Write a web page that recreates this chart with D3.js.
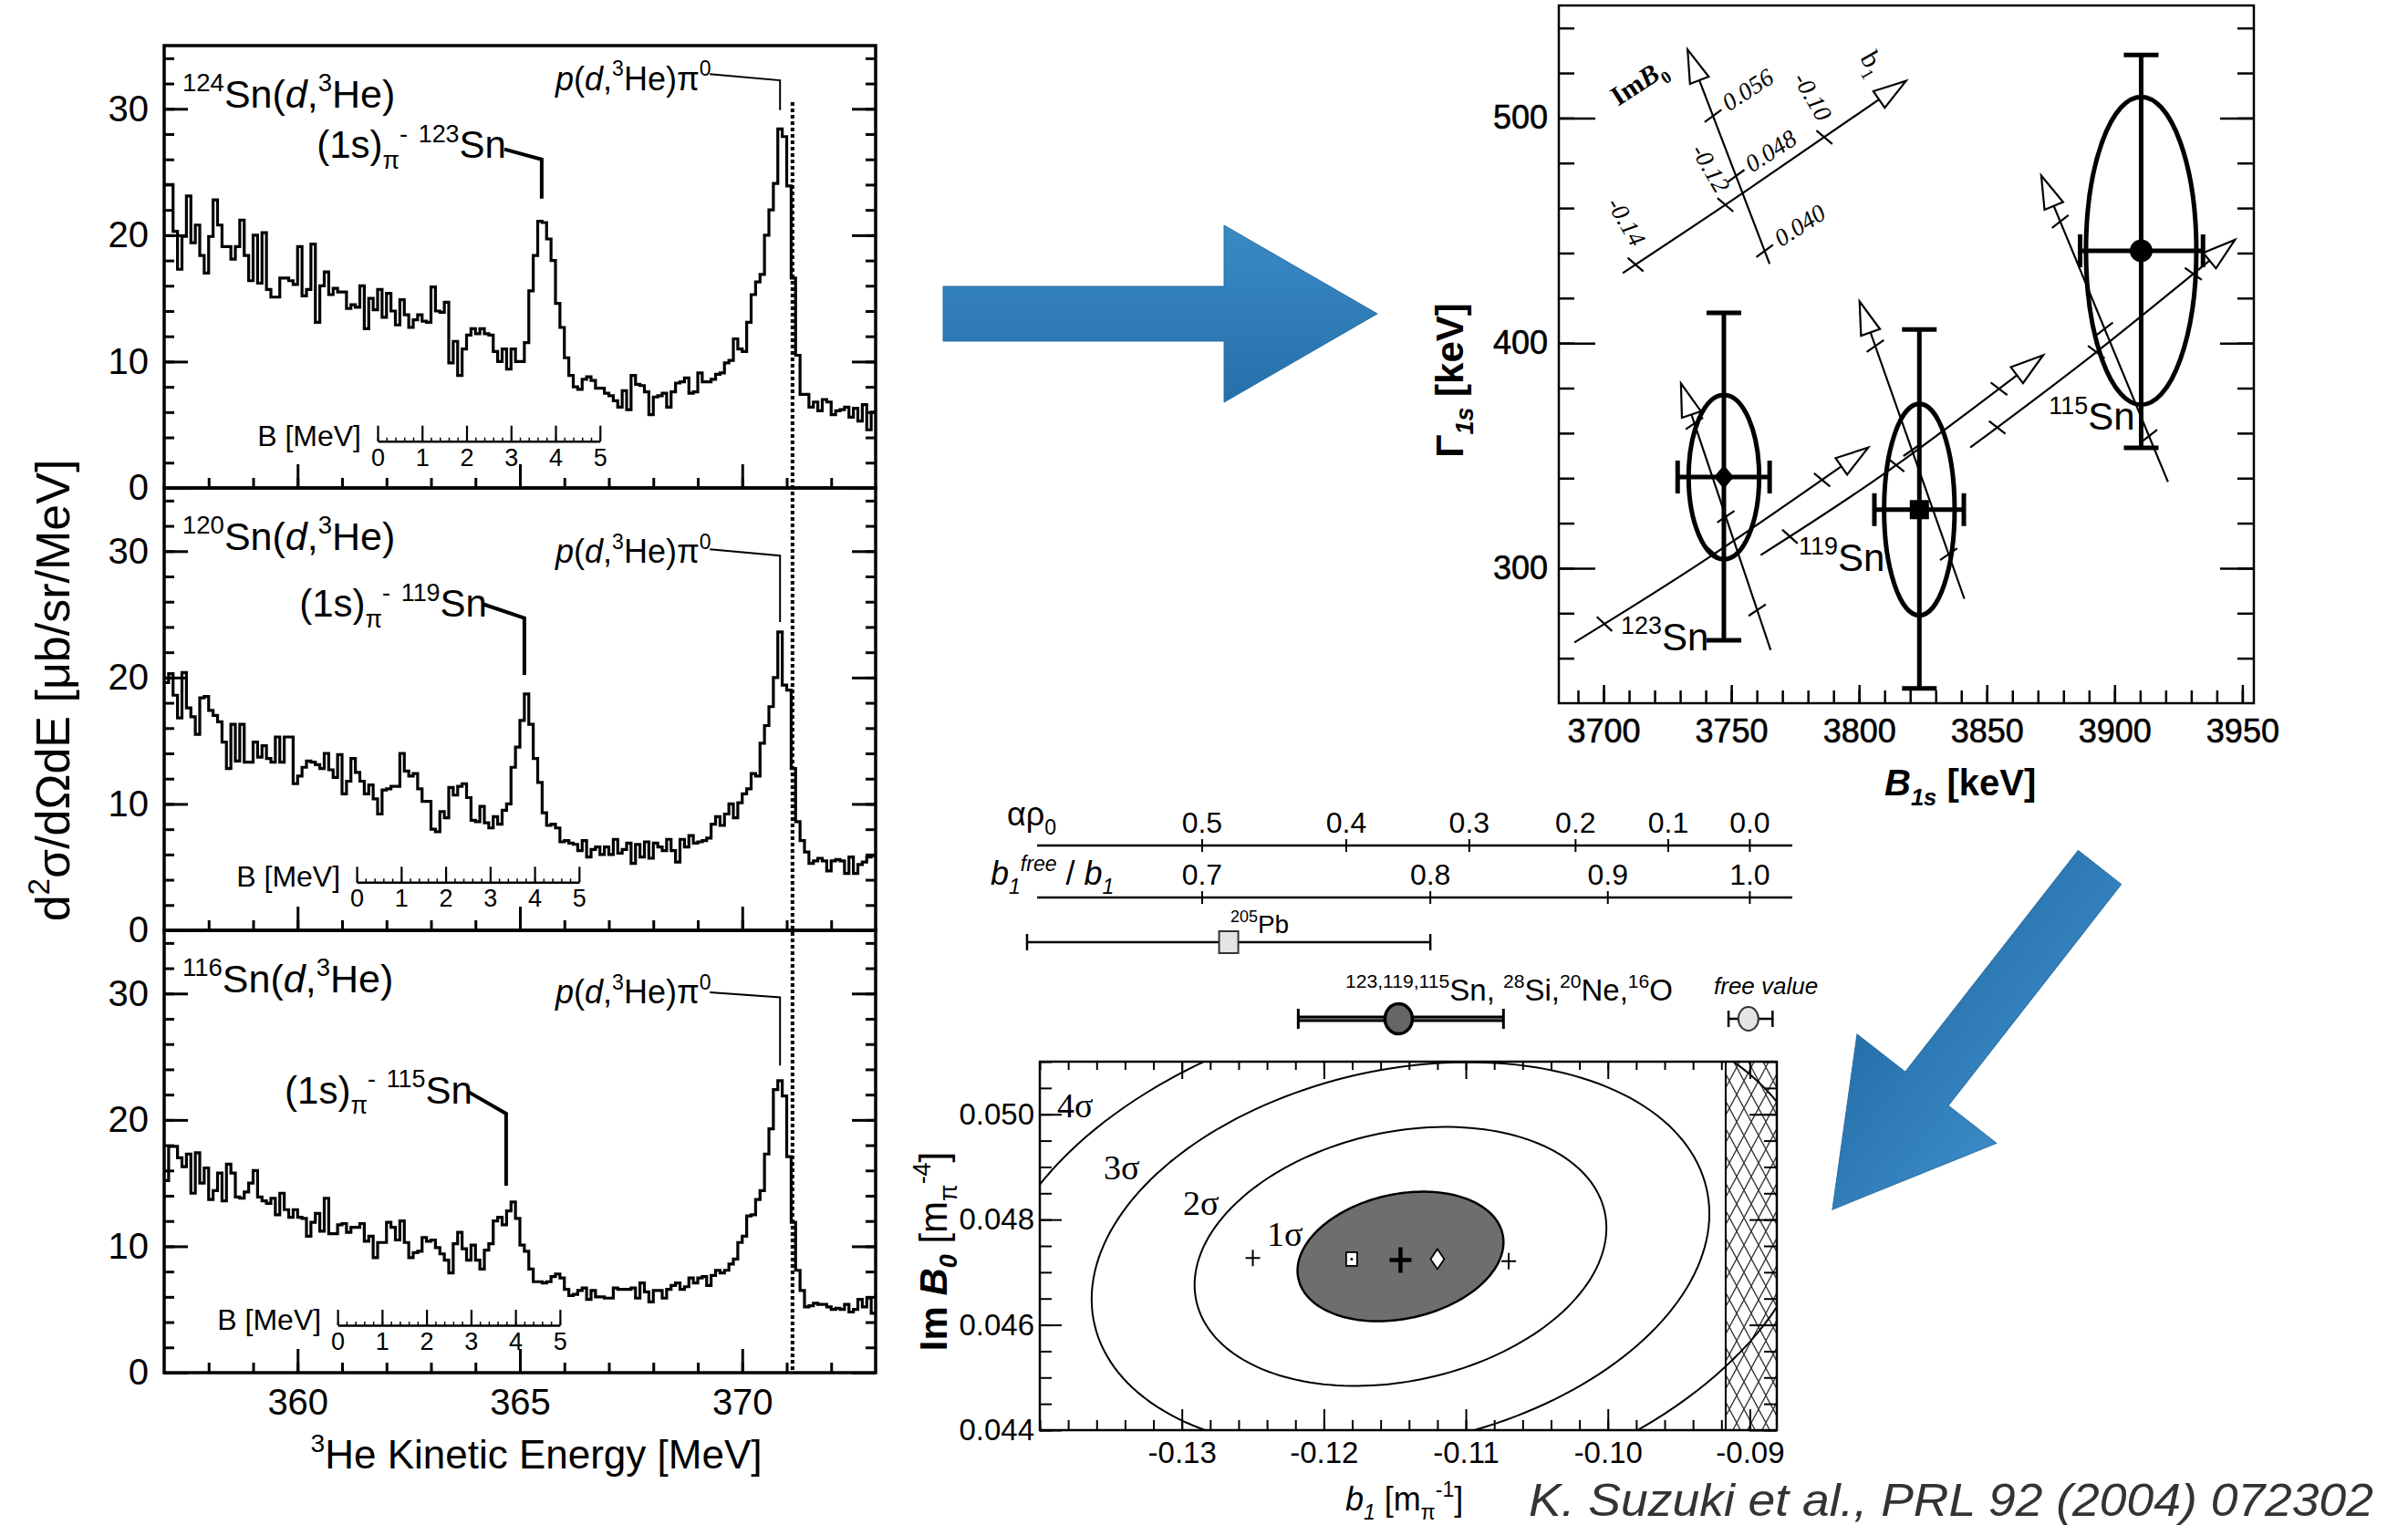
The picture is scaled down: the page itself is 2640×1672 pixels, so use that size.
<!DOCTYPE html>
<html>
<head>
<meta charset="utf-8">
<script src="https://cdn.jsdelivr.net/npm/d3@7"></script>
<style>
  body { margin: 0; background: #fff; }
  text { font-family: "Liberation Sans", Arial, Helvetica, sans-serif; fill: #000; }
  .serif { font-family: "Liberation Serif", "Times New Roman", serif; }
</style>
</head>
<body>
<svg id="fig" width="2640" height="1672"></svg>
<script>
// ---- spectra, counts per 0.1 MeV bin from 357.0 to 373.0 MeV ----
var eMin = 357, eMax = 373, binW = 0.1;
var sn124 = [
  24.0, 24.0, 20.3, 17.3, 19.9, 23.1, 19.4, 20.8, 18.4, 17.0,
  19.9, 22.8, 20.8, 19.1, 19.1, 18.1, 19.1, 21.2, 18.4, 16.4,
  20.0, 16.2, 20.2, 15.7, 15.1, 15.1, 16.6, 16.6, 16.4, 16.1,
  19.1, 15.2, 15.7, 19.3, 13.1, 16.0, 17.1, 15.3, 15.8, 15.5,
  15.5, 14.2, 14.5, 14.3, 16.0, 12.6, 15.0, 14.1, 15.7, 13.5,
  15.4, 14.0, 12.9, 14.9, 13.7, 12.7, 13.3, 13.7, 13.2, 13.1,
  15.9, 14.0, 13.9, 14.7, 9.9, 11.6, 8.9, 11.0, 12.1, 12.6,
  12.2, 12.6, 12.2, 12.1, 10.8, 10.0, 11.0, 9.4, 11.0, 10.0,
  10.0, 11.5, 15.6, 18.4, 21.1, 21.0, 19.7, 18.0, 14.6, 12.7,
  10.3, 8.9, 8.0, 7.8, 8.6, 8.8, 8.5, 7.9, 7.9, 7.5,
  7.3, 6.9, 6.4, 7.7, 6.2, 8.9, 8.2, 8.1, 7.6, 5.8,
  7.2, 7.3, 7.5, 6.4, 7.6, 8.3, 8.4, 8.7, 7.5, 7.6,
  9.1, 8.4, 8.4, 8.6, 9.0, 9.1, 9.9, 10.1, 11.8, 11.0,
  10.8, 13.1, 15.3, 16.3, 16.9, 20.0, 22.0, 24.1, 28.4, 27.8,
  23.9, 16.6, 10.5, 7.4, 7.4, 6.4, 6.8, 6.1, 7.0, 6.8,
  5.8, 6.1, 6.2, 6.4, 5.6, 6.3, 5.3, 6.6, 4.6, 6.0
];
var sn120 = [
  19.6, 20.3, 18.6, 16.8, 20.4, 17.6, 16.9, 15.5, 18.4, 18.5,
  17.4, 17.0, 16.5, 14.9, 12.8, 16.3, 13.4, 16.3, 13.3, 13.3,
  14.9, 13.7, 14.6, 13.6, 13.3, 15.3, 13.3, 15.3, 15.3, 11.6,
  12.2, 12.9, 13.4, 13.3, 13.1, 12.8, 14.0, 12.7, 12.1, 13.9,
  10.8, 11.8, 13.6, 12.5, 11.8, 10.8, 11.5, 10.4, 9.2, 11.1,
  11.2, 11.4, 11.4, 14.0, 12.6, 12.2, 12.4, 11.2, 10.2, 10.2,
  8.0, 7.8, 9.4, 8.9, 11.3, 10.7, 11.4, 11.6, 10.5, 8.7,
  8.6, 9.8, 8.5, 8.1, 9.0, 8.4, 9.5, 10.0, 12.9, 14.5,
  16.6, 18.7, 16.3, 13.6, 11.7, 9.3, 8.3, 8.4, 8.1, 7.0,
  7.1, 6.9, 6.8, 6.3, 7.1, 5.8, 6.4, 6.6, 6.0, 6.6,
  6.0, 7.2, 6.1, 6.4, 6.9, 5.3, 6.8, 5.8, 7.0, 5.7,
  6.9, 6.6, 6.3, 7.2, 6.3, 5.4, 7.2, 6.6, 7.5, 6.9,
  7.0, 7.1, 7.3, 8.4, 9.0, 8.3, 9.2, 10.0, 8.9, 10.1,
  10.8, 11.2, 12.4, 12.2, 14.8, 16.2, 17.7, 20.0, 23.6, 19.4,
  19.0, 12.8, 8.6, 7.1, 6.2, 5.3, 5.5, 5.7, 5.5, 4.7,
  5.5, 5.6, 5.5, 4.5, 5.8, 4.5, 5.2, 5.4, 5.8, 5.9
];
var sn116 = [
  15.2, 17.9, 17.9, 17.0, 16.3, 17.3, 14.2, 17.4, 15.0, 16.2,
  13.7, 14.4, 15.8, 13.6, 16.5, 15.8, 13.9, 13.8, 14.3, 15.0,
  16.0, 13.9, 13.6, 13.4, 13.8, 12.5, 14.2, 12.9, 12.3, 12.9,
  12.3, 12.2, 10.8, 11.9, 12.6, 11.2, 13.8, 11.0, 11.0, 11.7,
  11.8, 11.1, 11.5, 11.5, 11.8, 10.4, 10.8, 9.1, 10.3, 10.3,
  11.9, 11.5, 10.5, 12.0, 10.3, 9.1, 9.5, 9.6, 10.7, 10.4,
  10.5, 9.9, 9.4, 8.9, 7.9, 10.2, 11.1, 9.8, 8.9, 10.1,
  8.9, 8.2, 9.7, 10.2, 12.0, 12.3, 11.7, 12.8, 13.5, 12.2,
  10.1, 9.6, 8.2, 7.2, 7.2, 7.1, 7.2, 7.6, 7.8, 7.5,
  6.6, 6.1, 6.2, 6.5, 6.7, 5.8, 6.5, 6.0, 6.0, 5.9,
  5.9, 6.7, 6.6, 6.6, 6.6, 6.7, 5.9, 7.1, 6.4, 5.6,
  6.5, 6.5, 5.9, 6.6, 6.9, 7.1, 6.6, 6.8, 7.5, 7.1,
  7.5, 7.6, 6.9, 7.7, 8.1, 7.9, 8.1, 8.6, 9.0, 10.3,
  10.8, 12.4, 12.5, 13.7, 14.4, 17.3, 19.3, 22.4, 23.1, 21.9,
  17.1, 11.9, 8.1, 6.5, 5.2, 5.3, 5.5, 5.4, 5.4, 5.2,
  5.0, 5.1, 5.0, 5.4, 4.8, 5.0, 5.8, 5.2, 5.9, 4.7
];
var spectra = [sn124, sn120, sn116];
var targetA = ["124", "120", "116"];
var boundA = ["123", "119", "115"];
var yTickMajor = [0, 10, 20, 30];
var xTickMajor = [360, 365, 370];
var thresholdE = 371.13;
// B [MeV] inset scales: kinetic energy of B = 0 and the level they sit at
var bScaleStart = [361.8, 361.33, 360.9];
var bScaleLevel = [3.7, 3.8, 3.75];
var bTickLabels = [0, 1, 2, 3, 4, 5];
// annotation anchors (MeV, cross section)
var titleAt = [357.41, 30.1];
var peakTextAt = [[360.43, 26.1], [360.04, 24.8], [359.71, 21.3]];
var peakLeader = [
  [[364.65, 26.8], [365.49, 26.0], [365.49, 22.9]],
  [[364.18, 25.8], [365.10, 24.7], [365.10, 20.2]],
  [[363.85, 22.2], [364.69, 20.5], [364.69, 14.8]]
];
var piTextAt = [[365.8, 31.5], [365.8, 29.1], [365.8, 29.2]];
var piLeader = [
  [[369.27, 32.75], [370.85, 32.25], [370.85, 29.9]],
  [[369.27, 30.15], [370.85, 29.65], [370.85, 24.4]],
  [[369.27, 30.1], [370.85, 29.7], [370.85, 24.3]]
];

// ---- B1s / Gamma1s results ----
var nucl = ["123", "119", "115"];
var b1s = [3747.1, 3823.6, 3910.4];
var b1sLo = [3729, 3806, 3886.5];
var b1sHi = [3765, 3841, 3934.6];
var g1s = [340.5, 326, 441];
var g1sLo = [268, 246.6, 353.5];
var g1sHi = [413.4, 406, 528];
var ellB = [13.8, 13.8, 21.6];
var ellG = [36.5, 47, 68.4];
var markerType = ["diamond", "square", "circle"];
var nuclLabelAt = [[3706.8, 263.6], [3776.4, 298.8], [3874.3, 361.5]];
var b1Path = [
  [[3688.6, 267.0], [3741.0, 304.6], [3803.6, 353.6]],
  [[3761.5, 305.8], [3811.6, 343.4], [3872.0, 394.6]],
  [[3843.5, 353.6], [3892.5, 395.7], [3947.1, 445.9]]
];
var imB0Path = [
  [[3765.4, 263.6], [3730.3, 382.1]],
  [[3841.2, 286.4], [3800.2, 418.5]],
  [[3920.9, 338.3], [3871.3, 474.4]]
];
var keyB1Path = [[3707.5, 431.1], [3755.7, 467.6], [3818.4, 516.5]];
var keyImB0Path = [[3765.0, 435.2], [3732.9, 530.4]];
var keyB1Ticks = ["-0.14", "-0.12", "-0.10"];
var keyB1TickAt = [0.045, 0.36, 0.71];
var keyB1LabelAt = [[3701.1, 462], [3734.1, 485.7], [3774.0, 517.6]];
var keyImB0Ticks = ["0.040", "0.048", "0.056"];
var keyImB0TickAt = [0.06, 0.41, 0.69];
var keyImB0LabelAt = [[3769.5, 442.5], [3758.1, 475.5], [3749.1, 502.8]];

// ---- b1 / ImB0 fit ----
var b1Free = -0.09;
var rhoTicks = [0.5, 0.4, 0.3, 0.2, 0.1, 0.0];
var ratioTicks = [0.7, 0.8, 0.9, 1.0];
var resCenter = [-0.1267, -0.11473, -0.0901];
var resLo = [-0.1409, -0.1218, -0.0915];
var resHi = [-0.1125, -0.10735, -0.0884];
var fitB1 = -0.1146, fitImB0 = 0.04730;
var sigB1 = 0.00725, sigImB0 = 0.00123, fitCorr = 0.22;
var sigmaLevels = [4, 3, 2, 1];
var sigmaLabelAt = [[-0.13878, 0.04994], [-0.1355, 0.04876], [-0.12992, 0.04809], [-0.1240, 0.0475]];
var otherFits = [[-0.1250, 0.04727], [-0.10698, 0.04721]];
var squareFit = [-0.11804, 0.04725], diamondFit = [-0.1120, 0.04725];
var excludedFrom = -0.0917;

var svg = d3.select("#fig");
svg.append("rect").attr("width", 2640).attr("height", 1672).attr("fill", "#fff");
var defs = svg.append("defs");

// text with sub/superscripts
function rich(sel, parts, size) {
  var shift = 0;
  parts.forEach(function(p) {
    var target = p.sup ? -size * 0.42 : (p.sub ? size * 0.27 : 0);
    var ts = sel.append("tspan").attr("dy", target - shift)
      .attr("font-size", (p.sup || p.sub) ? size * 0.64 : size)
      .text(p.t);
    if (p.it) ts.attr("font-style", "italic");
    if (p.bold) ts.attr("font-weight", "bold");
    shift = target;
  });
  return sel;
}
function styleAxis(g, fs, sw) {
  g.attr("font-family", null).attr("font-size", null);
  g.select(".domain").remove();
  g.selectAll("line").attr("stroke", "#000").attr("stroke-width", sw);
  g.selectAll("text").attr("font-size", fs).attr("fill", "#000");
  return g;
}

// ================= left: three spectra =================
var xL = d3.scaleLinear().domain([eMin, eMax]).range([180, 960]);
var panelTop = [50, 535, 1020], panelH = 485;
var hist = d3.line().curve(d3.curveStepAfter);

spectra.forEach(function(vals, i) {
  var top = panelTop[i], bottom = top + panelH;
  var y = d3.scaleLinear().domain([0, 35]).range([bottom, top]);
  var g = svg.append("g");

  defs.append("clipPath").attr("id", "clipL" + i).append("rect")
    .attr("x", 180).attr("y", top).attr("width", 780).attr("height", panelH);

  var pts = vals.map(function(v, k) { return [eMin + k * binW, v]; });
  pts.push([eMax, vals[vals.length - 1]]);
  g.append("path").datum(pts)
    .attr("clip-path", "url(#clipL" + i + ")")
    .attr("d", hist.x(function(d) { return xL(d[0]); }).y(function(d) { return y(d[1]); }))
    .attr("fill", "none").attr("stroke", "#000").attr("stroke-width", 3.2);

  // y ticks left/right
  styleAxis(g.append("g").attr("transform", "translate(180,0)")
    .call(d3.axisLeft(y).tickValues(d3.range(0, 35, 2)).tickSize(-11).tickFormat("")), 40, 3);
  styleAxis(g.append("g").attr("transform", "translate(180,0)")
    .call(d3.axisLeft(y).tickValues(yTickMajor).tickSize(-26).tickPadding(17)), 40, 3);
  styleAxis(g.append("g").attr("transform", "translate(960,0)")
    .call(d3.axisRight(y).tickValues(d3.range(0, 35, 2)).tickSize(-11).tickFormat("")), 40, 3);
  styleAxis(g.append("g").attr("transform", "translate(960,0)")
    .call(d3.axisRight(y).tickValues(yTickMajor).tickSize(-26).tickFormat("")), 40, 3);
  // x ticks
  styleAxis(g.append("g").attr("transform", "translate(0," + bottom + ")")
    .call(d3.axisBottom(xL).tickValues(d3.range(358, 373, 1)).tickSize(-11).tickFormat("")), 40, 3);
  styleAxis(g.append("g").attr("transform", "translate(0," + bottom + ")")
    .call(d3.axisBottom(xL).tickValues(xTickMajor).tickSize(-26).tickPadding(18)
      .tickFormat(function(d) { return i === 2 ? d : ""; })), 40, 3);

  g.append("rect").attr("x", 180).attr("y", top).attr("width", 780).attr("height", panelH)
    .attr("fill", "none").attr("stroke", "#000").attr("stroke-width", 3.5);

  // titles
  rich(g.append("text").attr("x", xL(titleAt[0])).attr("y", y(titleAt[1])),
    [{t: targetA[i], sup: 1}, {t: "Sn("}, {t: "d", it: 1}, {t: ","}, {t: "3", sup: 1}, {t: "He)"}], 43);
  rich(g.append("text").attr("x", xL(peakTextAt[i][0])).attr("y", y(peakTextAt[i][1])),
    [{t: "(1s)"}, {t: "\u03c0", sub: 1}, {t: "-", sup: 1}, {t: " "}, {t: boundA[i], sup: 1}, {t: "Sn"}], 42);
  rich(g.append("text").attr("x", xL(piTextAt[i][0])).attr("y", y(piTextAt[i][1])),
    [{t: "p", it: 1}, {t: "("}, {t: "d", it: 1}, {t: ","}, {t: "3", sup: 1}, {t: "He)\u03c0"}, {t: "0", sup: 1}], 36);

  var lead = d3.line().x(function(d) { return xL(d[0]); }).y(function(d) { return y(d[1]); });
  g.append("path").datum(peakLeader[i]).attr("d", lead)
    .attr("fill", "none").attr("stroke", "#000").attr("stroke-width", 4);
  g.append("path").datum(piLeader[i]).attr("d", lead)
    .attr("fill", "none").attr("stroke", "#000").attr("stroke-width", 2);

  // B [MeV] inset scale
  var bS = d3.scaleLinear().domain([0, 5]).range([xL(bScaleStart[i]), xL(bScaleStart[i] + 5)]);
  var by = y(bScaleLevel[i]);
  var gb = g.append("g").attr("transform", "translate(0," + by + ")");
  gb.call(d3.axisBottom(bS).tickValues(d3.range(0, 5.01, 0.2)).tickSize(-4).tickSizeOuter(0).tickFormat(""));
  gb.select(".domain").attr("stroke", "#000").attr("stroke-width", 2.5);
  gb.selectAll("line").attr("stroke", "#000").attr("stroke-width", 1.5);
  styleAxis(g.append("g").attr("transform", "translate(0," + by + ")")
    .call(d3.axisBottom(bS).tickValues(bTickLabels).tickSize(-17).tickPadding(8).tickFormat(d3.format("d"))), 27, 2.2);
  g.append("text").attr("x", bS(0) - 18).attr("y", by + 5).attr("text-anchor", "end")
    .attr("font-size", 32).text("B [MeV]");
});

// threshold line through all panels
svg.append("line").attr("x1", xL(thresholdE)).attr("x2", xL(thresholdE))
  .attr("y1", 112).attr("y2", panelTop[2] + panelH)
  .attr("stroke", "#000").attr("stroke-width", 4).attr("stroke-dasharray", "4,3");

rich(svg.append("text").attr("transform", "translate(76,757) rotate(-90)").attr("text-anchor", "middle"),
  [{t: "d"}, {t: "2", sup: 1}, {t: "\u03c3/d\u03a9dE [\u03bcb/sr/MeV]"}], 52);
rich(svg.append("text").attr("x", 588).attr("y", 1610).attr("text-anchor", "middle"),
  [{t: "3", sup: 1}, {t: "He Kinetic Energy [MeV]"}], 44);

// ================= blue arrows =================
var arrows = [
  {x: 1034, y: 344, angle: 0},
  {x: 2302, y: 951, angle: 128}
];
var arrowShape = [[0, -30], [308, -30], [308, -97], [476, 0], [308, 97], [308, 30], [0, 30]];
var grad = defs.append("linearGradient").attr("id", "blueG").attr("x1", 0).attr("y1", 0).attr("x2", 0).attr("y2", 1);
grad.append("stop").attr("offset", 0).attr("stop-color", "#3a8ac6");
grad.append("stop").attr("offset", 1).attr("stop-color", "#2670aa");
arrows.forEach(function(a) {
  svg.append("polygon").attr("points", arrowShape.map(function(p) { return p.join(","); }).join(" "))
    .attr("transform", "translate(" + a.x + "," + a.y + ") rotate(" + a.angle + ")")
    .attr("fill", "url(#blueG)").attr("stroke", "#2a6fa5").attr("stroke-width", 1);
});

// ================= top right: B1s vs Gamma1s =================
var xR = d3.scaleLinear().domain([3682.5, 3954.5]).range([1709, 2471]);
var yR = d3.scaleLinear().domain([240, 550]).range([771, 6]);
var gR = svg.append("g");

styleAxis(gR.append("g").attr("transform", "translate(0,771)")
  .call(d3.axisBottom(xR).tickValues(d3.range(3690, 3951, 10)).tickSize(-14).tickFormat("")), 36, 2.5);
styleAxis(gR.append("g").attr("transform", "translate(0,771)")
  .call(d3.axisBottom(xR).tickValues(d3.range(3700, 3951, 50)).tickSize(-20).tickPadding(17).tickFormat(d3.format("d"))), 36, 2.5)
  .selectAll("text").attr("stroke", "#000").attr("stroke-width", 0.6);
styleAxis(gR.append("g").attr("transform", "translate(1709,0)")
  .call(d3.axisLeft(yR).tickValues(d3.range(260, 541, 20)).tickSize(-17).tickFormat("")), 36, 2.5);
styleAxis(gR.append("g").attr("transform", "translate(1709,0)")
  .call(d3.axisLeft(yR).tickValues([300, 400, 500]).tickSize(-40).tickPadding(12)), 36, 2.5)
  .selectAll("text").attr("stroke", "#000").attr("stroke-width", 0.6);
styleAxis(gR.append("g").attr("transform", "translate(2471,0)")
  .call(d3.axisRight(yR).tickValues(d3.range(260, 541, 20)).tickSize(-18).tickFormat("")), 36, 2.5);
styleAxis(gR.append("g").attr("transform", "translate(2471,0)")
  .call(d3.axisRight(yR).tickValues([300, 400, 500]).tickSize(-37).tickFormat("")), 36, 2.5);
gR.append("rect").attr("x", 1709).attr("y", 6).attr("width", 762).attr("height", 765)
  .attr("fill", "none").attr("stroke", "#000").attr("stroke-width", 2.5);

function projLine(pts, fr, withArrow) {
  var path = gR.append("path").datum(pts)
    .attr("d", d3.line().x(function(d) { return xR(d[0]); }).y(function(d) { return yR(d[1]); })
      .curve(pts.length > 2 ? d3.curveNatural : d3.curveLinear))
    .attr("fill", "none").attr("stroke", "#000").attr("stroke-width", 2.2);
  var node = path.node(), L = node.getTotalLength();
  fr.forEach(function(f) {
    var p = node.getPointAtLength(f * L), q = node.getPointAtLength(Math.min(L, f * L + 2));
    var dx = q.x - p.x, dy = q.y - p.y, n = Math.hypot(dx, dy) || 1;
    var nx = -dy / n, ny = dx / n;
    gR.append("line").attr("x1", p.x - nx * 11 - dx / n * 3).attr("y1", p.y - ny * 11 - dy / n * 3)
      .attr("x2", p.x + nx * 11 + dx / n * 3).attr("y2", p.y + ny * 11 + dy / n * 3)
      .attr("stroke", "#000").attr("stroke-width", 2.2);
  });
  if (withArrow) {
    var tip = node.getPointAtLength(L), back = node.getPointAtLength(L - 36);
    var ux = tip.x - back.x, uy = tip.y - back.y, un = Math.hypot(ux, uy);
    ux /= un; uy /= un;
    var bx = tip.x - ux * 36, byy = tip.y - uy * 36;
    gR.append("polygon").attr("points", [
      [tip.x, tip.y], [bx - uy * 11, byy + ux * 11], [bx + uy * 11, byy - ux * 11]
    ].map(function(p) { return p.join(","); }).join(" "))
      .attr("fill", "#fff").attr("stroke", "#000").attr("stroke-width", 2.2);
  }
  return node;
}

// key
projLine(keyB1Path, keyB1TickAt, true);
projLine(keyImB0Path, keyImB0TickAt, true);
keyB1Ticks.forEach(function(t, k) {
  gR.append("text").attr("class", "serif").attr("font-size", 27).attr("font-style", "italic")
    .attr("transform", "translate(" + xR(keyB1LabelAt[k][0]) + "," + yR(keyB1LabelAt[k][1]) + ") rotate(60)")
    .text(t);
});
keyImB0Ticks.forEach(function(t, k) {
  gR.append("text").attr("class", "serif").attr("font-size", 27).attr("font-style", "italic")
    .attr("transform", "translate(" + xR(keyImB0LabelAt[k][0]) + "," + yR(keyImB0LabelAt[k][1]) + ") rotate(-33)")
    .text(t);
});
rich(gR.append("text").attr("class", "serif")
  .attr("transform", "translate(" + xR(3705.7) + "," + yR(505.1) + ") rotate(-33)"),
  [{t: "Im"}, {t: "B", it: 1}, {t: "0", sub: 1}], 30).attr("font-weight", "bold");
rich(gR.append("text").attr("class", "serif")
  .attr("transform", "translate(" + xR(3800.2) + "," + yR(526.7) + ") rotate(60)"),
  [{t: "b"}, {t: "1", sub: 1}], 30);

nucl.forEach(function(n, i) {
  projLine(b1Path[i], [0.1, 0.47, 0.84], true);
  projLine(imB0Path[i], [0.15, 0.5, 0.85], true);
});

nucl.forEach(function(n, i) {
  var cx = xR(b1s[i]), cy = yR(g1s[i]);
  gR.append("ellipse").attr("cx", cx).attr("cy", cy)
    .attr("rx", xR(b1s[i] + ellB[i]) - cx).attr("ry", cy - yR(g1s[i] + ellG[i]))
    .attr("fill", "none").attr("stroke", "#000").attr("stroke-width", 5);
  var eb = gR.append("g").attr("stroke", "#000").attr("stroke-width", 5);
  eb.append("line").attr("x1", cx).attr("x2", cx).attr("y1", yR(g1sLo[i])).attr("y2", yR(g1sHi[i]));
  eb.append("line").attr("x1", cx - 19).attr("x2", cx + 19).attr("y1", yR(g1sLo[i])).attr("y2", yR(g1sLo[i]));
  eb.append("line").attr("x1", cx - 19).attr("x2", cx + 19).attr("y1", yR(g1sHi[i])).attr("y2", yR(g1sHi[i]));
  eb.append("line").attr("x1", xR(b1sLo[i])).attr("x2", xR(b1sHi[i])).attr("y1", cy).attr("y2", cy);
  eb.append("line").attr("x1", xR(b1sLo[i])).attr("x2", xR(b1sLo[i])).attr("y1", cy - 18).attr("y2", cy + 18);
  eb.append("line").attr("x1", xR(b1sHi[i])).attr("x2", xR(b1sHi[i])).attr("y1", cy - 18).attr("y2", cy + 18);
  if (markerType[i] === "diamond") {
    gR.append("polygon").attr("points", [[cx, cy - 13], [cx + 11, cy], [cx, cy + 13], [cx - 11, cy]].join(" "));
  } else if (markerType[i] === "square") {
    gR.append("rect").attr("x", cx - 10.5).attr("y", cy - 10.5).attr("width", 21).attr("height", 21);
  } else {
    gR.append("circle").attr("cx", cx).attr("cy", cy).attr("r", 12.5);
  }
  rich(gR.append("text").attr("x", xR(nuclLabelAt[i][0])).attr("y", yR(nuclLabelAt[i][1])),
    [{t: n, sup: 1}, {t: "Sn"}], 42);
});

rich(svg.append("text").attr("transform", "translate(1604,417) rotate(-90)").attr("text-anchor", "middle")
  .attr("font-weight", "bold"),
  [{t: "\u0393"}, {t: "1s", sub: 1, it: 1}, {t: " [keV]"}], 42);
rich(svg.append("text").attr("x", 2066).attr("y", 872).attr("font-weight", "bold"),
  [{t: "B", it: 1}, {t: "1s", sub: 1, it: 1}, {t: " [keV]"}], 40);

// ================= bottom right: b1 / ImB0 =================
var xB = d3.scaleLinear().domain([-0.14, -0.0881]).range([1140, 1948]);
var yB = d3.scaleLinear().domain([0.044, 0.051]).range([1568, 1164]);
function rhoToB1(a) { return b1Free / (1 - 0.6 * a); }
function ratioToB1(r) { return b1Free / r; }

var gS = svg.append("g");
[[927, rhoTicks, rhoToB1, 913], [984, ratioTicks, ratioToB1, 970]].forEach(function(row) {
  gS.append("line").attr("x1", 1137).attr("x2", 1965).attr("y1", row[0]).attr("y2", row[0])
    .attr("stroke", "#000").attr("stroke-width", 2.5);
  row[1].forEach(function(v) {
    var x = xB(row[2](v));
    gS.append("line").attr("x1", x).attr("x2", x).attr("y1", row[0] - 7).attr("y2", row[0] + 7)
      .attr("stroke", "#000").attr("stroke-width", 2);
    gS.append("text").attr("x", x).attr("y", row[3]).attr("text-anchor", "middle")
      .attr("font-size", 32).text(v.toFixed(1));
  });
});
rich(gS.append("text").attr("x", 1104).attr("y", 905), [{t: "\u03b1\u03c1"}, {t: "0", sub: 1}], 36);
rich(gS.append("text").attr("x", 1086).attr("y", 970),
  [{t: "b", it: 1}, {t: "1", sub: 1, it: 1}, {t: "free", sup: 1, it: 1}, {t: " / "}, {t: "b", it: 1}, {t: "1", sub: 1, it: 1}], 36);

var resY = [1033, 1117, 1117];
// 205Pb
gS.append("line").attr("x1", xB(resLo[0])).attr("x2", xB(resHi[0])).attr("y1", resY[0]).attr("y2", resY[0])
  .attr("stroke", "#000").attr("stroke-width", 2.5);
[resLo[0], resHi[0]].forEach(function(v) {
  gS.append("line").attr("x1", xB(v)).attr("x2", xB(v)).attr("y1", resY[0] - 9).attr("y2", resY[0] + 9)
    .attr("stroke", "#000").attr("stroke-width", 2.5);
});
gS.append("rect").attr("x", xB(resCenter[0]) - 10.5).attr("y", resY[0] - 12).attr("width", 21).attr("height", 24)
  .attr("fill", "#e4e4e4").attr("stroke", "#333").attr("stroke-width", 2);
rich(gS.append("text").attr("x", xB(resCenter[0]) + 2).attr("y", 1023), [{t: "205", sup: 1}, {t: "Pb"}], 28);
// Sn, Si, Ne, O
gS.append("line").attr("x1", xB(resLo[1])).attr("x2", xB(resHi[1])).attr("y1", resY[1]).attr("y2", resY[1])
  .attr("stroke", "#000").attr("stroke-width", 7);
gS.append("line").attr("x1", xB(resLo[1])).attr("x2", xB(resHi[1])).attr("y1", resY[1]).attr("y2", resY[1])
  .attr("stroke", "#555").attr("stroke-width", 2);
[resLo[1], resHi[1]].forEach(function(v) {
  gS.append("line").attr("x1", xB(v)).attr("x2", xB(v)).attr("y1", resY[1] - 11).attr("y2", resY[1] + 11)
    .attr("stroke", "#000").attr("stroke-width", 3);
});
gS.append("ellipse").attr("cx", xB(resCenter[1])).attr("cy", resY[1]).attr("rx", 15).attr("ry", 16.5)
  .attr("fill", "#666").attr("stroke", "#000").attr("stroke-width", 3.5);
rich(gS.append("text").attr("x", 1475).attr("y", 1097),
  [{t: "123,119,115", sup: 1}, {t: "Sn, "}, {t: "28", sup: 1}, {t: "Si,"}, {t: "20", sup: 1}, {t: "Ne,"}, {t: "16", sup: 1}, {t: "O"}], 33);
// free value
gS.append("line").attr("x1", xB(resLo[2])).attr("x2", xB(resHi[2])).attr("y1", resY[2]).attr("y2", resY[2])
  .attr("stroke", "#000").attr("stroke-width", 2.5);
[resLo[2], resHi[2]].forEach(function(v) {
  gS.append("line").attr("x1", xB(v)).attr("x2", xB(v)).attr("y1", resY[2] - 9).attr("y2", resY[2] + 9)
    .attr("stroke", "#000").attr("stroke-width", 2.5);
});
gS.append("ellipse").attr("cx", xB(resCenter[2])).attr("cy", resY[2]).attr("rx", 11).attr("ry", 13)
  .attr("fill", "#e4e4e4").attr("stroke", "#333").attr("stroke-width", 2);
gS.append("text").attr("x", 1879).attr("y", 1090).attr("font-size", 26).attr("font-style", "italic").text("free value");

// contour plot
var gC = svg.append("g");
defs.append("clipPath").attr("id", "clipC").append("rect")
  .attr("x", 1140).attr("y", 1164).attr("width", 808).attr("height", 404);
var hatch = defs.append("pattern").attr("id", "hatch").attr("patternUnits", "userSpaceOnUse")
  .attr("width", 16).attr("height", 30);
hatch.append("path").attr("d", "M0,0L16,30M16,0L0,30").attr("stroke", "#333").attr("stroke-width", 1.3);
gC.append("rect").attr("x", xB(excludedFrom)).attr("y", 1164).attr("width", 1948 - xB(excludedFrom)).attr("height", 404)
  .attr("fill", "url(#hatch)").attr("stroke", "#000").attr("stroke-width", 2);

var tGrid = d3.range(0, 2 * Math.PI, Math.PI / 90);
var sq = Math.sqrt(1 - fitCorr * fitCorr);
function contourLine(n) {
  return d3.line().curve(d3.curveLinearClosed)
    .x(function(t) { return xB(fitB1 + n * sigB1 * Math.cos(t)); })
    .y(function(t) { return yB(fitImB0 + n * sigImB0 * (fitCorr * Math.cos(t) + sq * Math.sin(t))); });
}
sigmaLevels.forEach(function(n) {
  gC.append("path").attr("clip-path", "url(#clipC)")
    .attr("d", contourLine(n)(tGrid))
    .attr("fill", n === 1 ? "#6e6e6e" : "none").attr("stroke", "#000").attr("stroke-width", n === 1 ? 2.5 : 2);
});
sigmaLevels.forEach(function(n, k) {
  gC.append("text").attr("class", "serif").attr("font-size", 38)
    .attr("x", xB(sigmaLabelAt[k][0])).attr("y", yB(sigmaLabelAt[k][1])).text(n + "\u03c3");
});
otherFits.forEach(function(p) {
  var x = xB(p[0]), y = yB(p[1]);
  gC.append("path").attr("d", "M" + (x - 8) + "," + y + "H" + (x + 8) + "M" + x + "," + (y - 9) + "V" + (y + 9))
    .attr("stroke", "#000").attr("stroke-width", 2);
});
(function() {
  var x = xB(fitB1), y = yB(0.04723);
  gC.append("path").attr("d", "M" + (x - 12) + "," + y + "H" + (x + 12) + "M" + x + "," + (y - 14) + "V" + (y + 14))
    .attr("stroke", "#000").attr("stroke-width", 4.5);
  var sx = xB(squareFit[0]), sy = yB(squareFit[1]);
  gC.append("rect").attr("x", sx - 6).attr("y", sy - 7.5).attr("width", 12).attr("height", 15)
    .attr("fill", "#fff").attr("stroke", "#000").attr("stroke-width", 1.8);
  gC.append("circle").attr("cx", sx).attr("cy", sy).attr("r", 1.5).attr("fill", "#000");
  var dx = xB(diamondFit[0]), dy = yB(diamondFit[1]);
  gC.append("polygon").attr("points", [[dx, dy - 11], [dx + 7.5, dy], [dx, dy + 11], [dx - 7.5, dy]].join(" "))
    .attr("fill", "#fff").attr("stroke", "#000").attr("stroke-width", 1.8);
})();

var xMinor = d3.range(0, 26).map(function(k) { return -0.14 + 0.002 * k; });
var xMajor = [-0.13, -0.12, -0.11, -0.10, -0.09];
var yMinor = d3.range(0, 15).map(function(k) { return 0.044 + 0.0005 * k; });
var yMajor = [0.044, 0.046, 0.048, 0.050];
styleAxis(gC.append("g").attr("transform", "translate(0,1568)")
  .call(d3.axisBottom(xB).tickValues(xMinor).tickSize(-11).tickFormat("")), 33, 2);
styleAxis(gC.append("g").attr("transform", "translate(0,1568)")
  .call(d3.axisBottom(xB).tickValues(xMajor).tickSize(-23).tickPadding(13)
    .tickFormat(function(d) { return d.toFixed(2); })), 33, 2);
styleAxis(gC.append("g").attr("transform", "translate(0,1164)")
  .call(d3.axisTop(xB).tickValues(xMinor).tickSize(-9).tickFormat("")), 33, 2);
styleAxis(gC.append("g").attr("transform", "translate(0,1164)")
  .call(d3.axisTop(xB).tickValues(xMajor).tickSize(-19).tickFormat("")), 33, 2);
styleAxis(gC.append("g").attr("transform", "translate(1140,0)")
  .call(d3.axisLeft(yB).tickValues(yMinor).tickSize(-13).tickFormat("")), 33, 2);
styleAxis(gC.append("g").attr("transform", "translate(1140,0)")
  .call(d3.axisLeft(yB).tickValues(yMajor).tickSize(-24).tickPadding(6)
    .tickFormat(function(d) { return d.toFixed(3); })), 33, 2);
styleAxis(gC.append("g").attr("transform", "translate(1948,0)")
  .call(d3.axisRight(yB).tickValues(yMinor).tickSize(-14).tickFormat("")), 33, 2);
styleAxis(gC.append("g").attr("transform", "translate(1948,0)")
  .call(d3.axisRight(yB).tickValues(yMajor).tickSize(-30).tickFormat("")), 33, 2);
gC.append("rect").attr("x", 1140).attr("y", 1164).attr("width", 808).attr("height", 404)
  .attr("fill", "none").attr("stroke", "#000").attr("stroke-width", 2.5);

rich(svg.append("text").attr("transform", "translate(1038,1372) rotate(-90)").attr("text-anchor", "middle"),
  [{t: "Im", bold: 1}, {t: " "}, {t: "B", it: 1, bold: 1}, {t: "0", sub: 1, it: 1, bold: 1}, {t: "  [m"}, {t: "\u03c0", sub: 1}, {t: "-4", sup: 1}, {t: "]"}], 42);
rich(svg.append("text").attr("x", 1475).attr("y", 1656),
  [{t: "b", it: 1}, {t: "1", sub: 1, it: 1}, {t: "  [m"}, {t: "\u03c0", sub: 1}, {t: "-1", sup: 1}, {t: "]"}], 36);

svg.append("text").attr("x", 1676).attr("y", 1662).attr("font-size", 50).attr("font-style", "italic")
  .style("fill", "#333")
  .attr("textLength", 926).attr("lengthAdjust", "spacingAndGlyphs")
  .text("K. Suzuki et al., PRL 92 (2004) 072302");
</script>
</body>
</html>
